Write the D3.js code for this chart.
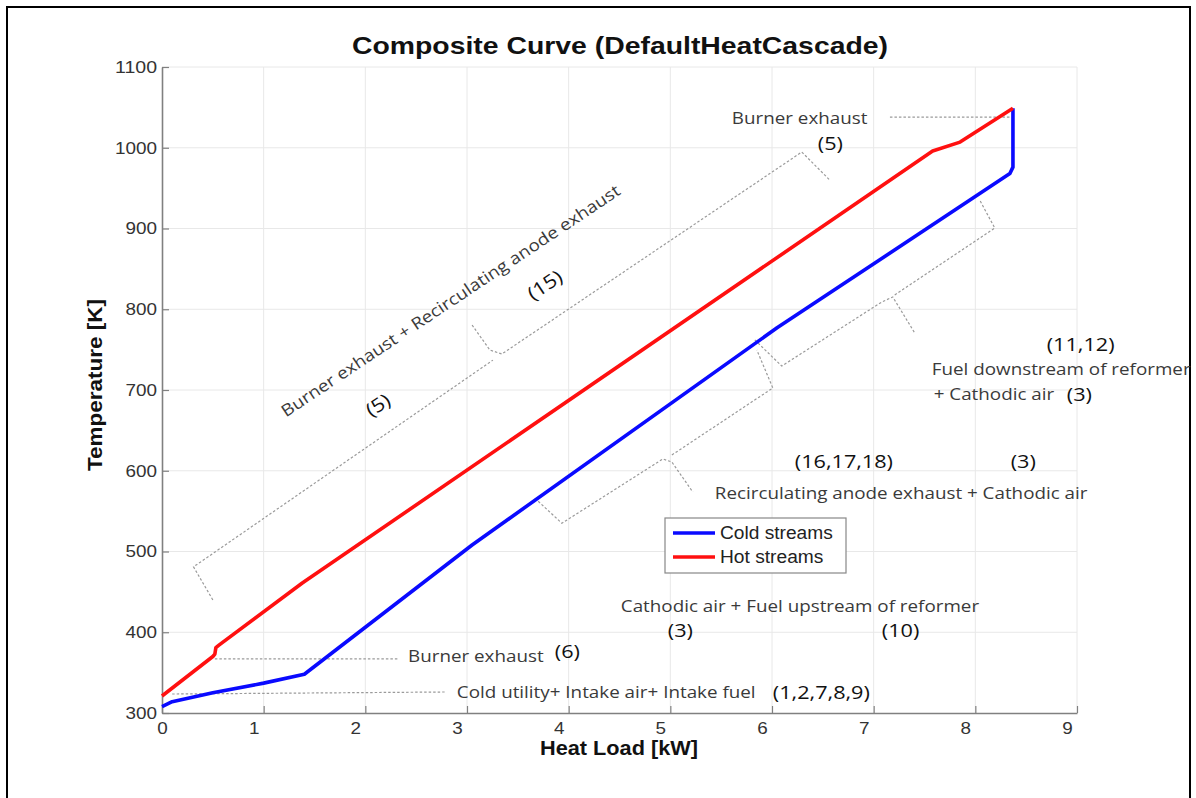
<!DOCTYPE html>
<html>
<head>
<meta charset="utf-8">
<script src="https://cdn.jsdelivr.net/npm/d3@7"></script>
<style>
  body { margin: 0; background: #fff; }
  svg { display: block; }
</style>
</head>
<body>
<div id="chart"></div>
<script>
// composite curves (heat load kW, temperature K)
const hotLoad = [0, 0.5, 0.52, 0.53, 0.56, 1.38, 7.58, 7.85, 8.37]
const hotTemp = [321, 370, 373, 381, 384, 461, 996, 1007, 1049]
const coldLoad = [0, 0.1, 0.5, 1.0, 1.4, 3.05, 6.05, 8.34, 8.37, 8.37]
const coldTemp = [308, 314, 325, 337, 348, 508, 777, 968, 976, 1049]

const xTicks = [0, 1, 2, 3, 4, 5, 6, 7, 8, 9]
const yTicks = [300, 400, 500, 600, 700, 800, 900, 1000, 1100]
const seriesNames = ['Cold streams', 'Hot streams']

// dotted leader lines and braces, in data units
const leaders = [
  [[7.16, 1038], [8.34, 1038]],
  [[0.52, 367], [2.32, 367]],
  [[0.10, 323.5], [2.78, 326]]
]
const braces = [
  [[0.50, 440], [0.31, 481], [3.255, 737]],
  [[3.05, 780.5], [3.225, 749.5], [3.343, 744.6], [6.293, 994.7], [6.568, 960]],
  [[3.668, 566], [3.933, 535], [4.926, 614.6], [5.015, 610.8], [5.221, 573.7]],
  [[5.015, 619.5], [6.008, 702.5], [5.851, 749.5]],
  [[5.831, 762], [6.096, 729.7], [7.08, 809], [7.188, 815.2], [7.404, 770.6]],
  [[7.207, 817.7], [8.191, 900.6], [8.043, 935.3]]
]

// stream labels: text, anchor load, anchor temperature
const noteText = ['Burner exhaust', '(5)', 'Burner exhaust', '(6)',
  'Cold utility+ Intake air+ Intake fuel', '(1,2,7,8,9)',
  'Cathodic air + Fuel upstream of reformer', '(3)', '(10)',
  '(16,17,18)', '(3)', 'Recirculating anode exhaust + Cathodic air',
  '(11,12)', 'Fuel downstream of reformer', '+ Cathodic air', '(3)']
const noteLoad = [5.605, 6.45, 2.42, 3.864, 2.90, 6.008, 4.513, 4.975, 7.08,
  6.224, 8.348, 5.438, 8.702, 7.572, 7.59, 8.90]
const noteTemp = [1029.4, 997.2, 363.2, 368.1, 318.6, 317.3, 425.1, 394.1, 394.1,
  603.4, 603.4, 565.0, 748.3, 718.6, 687.6, 686.4]

const slantText = ['Burner exhaust + Recirculating anode exhaust', '(15)', '(5)']
const slantLoad = [1.22, 3.766, 2.124]
const slantTemp = [666, 830, 681.4]

const W = 1196, H = 798
const plotLeft = 162, plotRight = 1077, plotTop = 67, plotBottom = 713
const stretch = 1.14   // the source figure is a little wider than it is tall

const svg = d3.select('#chart').append('svg')
  .attr('width', W).attr('height', H)

// outer frame
svg.append('rect')
  .attr('x', 7).attr('y', 7).attr('width', 1183).attr('height', 810)
  .attr('fill', 'none').attr('stroke', '#000').attr('stroke-width', 2)

const x = d3.scaleLinear().domain([0, 9]).range([plotLeft, plotRight])
const y = d3.scaleLinear().domain([300, 1100]).range([plotBottom, plotTop])

// grid
const grid = svg.append('g').attr('stroke', '#e8e8e8').attr('stroke-width', 1)
grid.selectAll('line.vx').data(xTicks.slice(1)).enter().append('line')
  .attr('x1', d => x(d)).attr('x2', d => x(d)).attr('y1', plotTop).attr('y2', plotBottom)
grid.selectAll('line.hy').data(yTicks.slice(1)).enter().append('line')
  .attr('x1', plotLeft).attr('x2', plotRight).attr('y1', d => y(d)).attr('y2', d => y(d))

// axes, MATLAB style ticks pointing in
const xAxis = svg.append('g').attr('transform', `translate(0,${plotBottom})`)
  .call(d3.axisBottom(x).tickValues(xTicks).tickFormat(d3.format('d'))
    .tickSize(-7).tickSizeOuter(0).tickPadding(9))
const yAxis = svg.append('g').attr('transform', `translate(${plotLeft},0)`)
  .call(d3.axisLeft(y).tickValues(yTicks).tickFormat(d3.format('d'))
    .tickSize(-7).tickSizeOuter(0).tickPadding(5))
for (const ax of [xAxis, yAxis]) {
  ax.select('.domain').attr('stroke', '#808080').attr('stroke-width', 1.6)
  ax.selectAll('.tick line').attr('stroke', '#808080').attr('stroke-width', 1.2)
  ax.selectAll('.tick text')
    .attr('font-family', 'Liberation Sans, Arial, sans-serif')
    .attr('font-size', 17).attr('fill', '#333')
    .attr('textLength', d => String(d).length * 10.5)
    .attr('lengthAdjust', 'spacingAndGlyphs')
}
xAxis.selectAll('.tick text').attr('dx', d => d === 0 ? 0 : -10)

// titles
svg.append('text').attr('x', 620).attr('y', 54).attr('text-anchor', 'middle')
  .attr('font-family', 'Liberation Sans, Arial, sans-serif')
  .attr('font-weight', 'bold').attr('font-size', 24).attr('fill', '#111')
  .attr('textLength', 536).attr('lengthAdjust', 'spacingAndGlyphs')
  .text('Composite Curve (DefaultHeatCascade)')
svg.append('text').attr('x', 619).attr('y', 755).attr('text-anchor', 'middle')
  .attr('font-family', 'Liberation Sans, Arial, sans-serif')
  .attr('font-weight', 'bold').attr('font-size', 19.5).attr('fill', '#111')
  .attr('textLength', 158).attr('lengthAdjust', 'spacingAndGlyphs')
  .text('Heat Load [kW]')
svg.append('text').attr('transform', 'translate(102,385) rotate(-90)')
  .attr('text-anchor', 'middle')
  .attr('font-family', 'Liberation Sans, Arial, sans-serif')
  .attr('font-weight', 'bold').attr('font-size', 19.5).attr('fill', '#111')
  .attr('textLength', 172).attr('lengthAdjust', 'spacingAndGlyphs')
  .text('Temperature [K]')

// annotations
const dotted = svg.append('g').attr('fill', 'none').attr('stroke', '#9a9a9a')
  .attr('stroke-width', 1.2).attr('stroke-dasharray', '2.5,2')
const pline = d3.line().x(d => x(d[0])).y(d => y(d[1]))
dotted.selectAll('path.lead').data(leaders).enter().append('path').attr('d', pline)
dotted.selectAll('path.brace').data(braces).enter().append('path').attr('d', pline)

const isNum = t => t[0] === '('
const notes = noteText.map((t, i) => ({ t: t, q: noteLoad[i], T: noteTemp[i] }))
svg.append('g').selectAll('text').data(notes).enter().append('text')
  .attr('transform', d => `translate(${x(d.q)},${y(d.T)}) scale(${stretch},1)`)
  .attr('font-family', 'Open Sans, sans-serif')
  .attr('font-size', d => isNum(d.t) ? 19 : 16.5)
  .attr('fill', d => isNum(d.t) ? '#111' : '#3a3a3a')
  .text(d => d.t)

const slants = slantText.map((t, i) => ({ t: t, q: slantLoad[i], T: slantTemp[i] }))
svg.append('g').selectAll('text').data(slants).enter().append('text')
  .attr('transform', d => `translate(${x(d.q)},${y(d.T)}) rotate(-33.7) scale(${stretch},1)`)
  .attr('text-anchor', (d, i) => i === 0 ? 'start' : 'middle')
  .attr('dy', (d, i) => i === 0 ? 0 : '0.35em')
  .attr('font-family', 'Open Sans, sans-serif')
  .attr('font-size', (d, i) => i === 0 ? 16.5 : 19)
  .attr('fill', (d, i) => i === 0 ? '#3a3a3a' : '#111')
  .text(d => d.t)

// curves
const curve = d3.line().x(d => x(d[0])).y(d => y(d[1]))
const hot = hotLoad.map((q, i) => [q, hotTemp[i]])
const cold = coldLoad.map((q, i) => [q, coldTemp[i]])
svg.append('path').datum(cold).attr('d', curve)
  .attr('fill', 'none').attr('stroke', '#0a0aff').attr('stroke-width', 3.6)
  .attr('stroke-linejoin', 'round')
svg.append('path').datum(hot).attr('d', curve)
  .attr('fill', 'none').attr('stroke', '#ff1010').attr('stroke-width', 3.6)
  .attr('stroke-linejoin', 'round')

// legend
const lg = svg.append('g').attr('transform', 'translate(665,518)')
lg.append('rect').attr('width', 181).attr('height', 55)
  .attr('fill', '#fff').attr('stroke', '#888').attr('stroke-width', 1.2)
const lgColors = ['#0a0aff', '#ff1010']
seriesNames.forEach((name, i) => {
  const yy = 15 + i * 24
  lg.append('line').attr('x1', 8).attr('x2', 50).attr('y1', yy).attr('y2', yy)
    .attr('stroke', lgColors[i]).attr('stroke-width', 3.5)
  lg.append('text').attr('x', 55).attr('y', yy).attr('dy', '0.35em')
    .attr('font-family', 'Liberation Sans, Arial, sans-serif')
    .attr('font-size', 17.5).attr('fill', '#222')
    .attr('textLength', name.length * 9.4).attr('lengthAdjust', 'spacingAndGlyphs')
    .text(name)
})
</script>
</body>
</html>
